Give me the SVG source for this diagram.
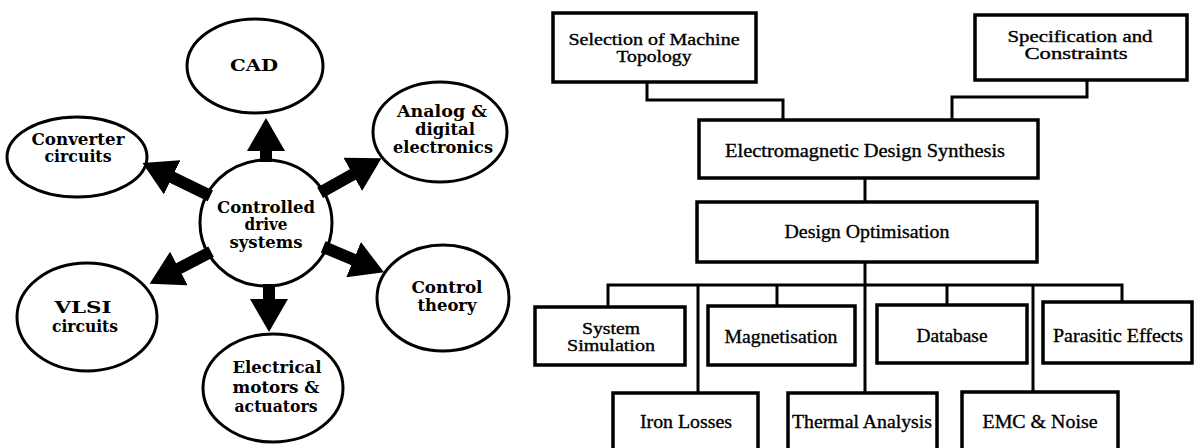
<svg xmlns="http://www.w3.org/2000/svg" width="1194" height="448" viewBox="0 0 1194 448">
<defs>
<style>
.ell{fill:#fff;stroke:#000;stroke-width:3}
.box{fill:#fff;stroke:#000;stroke-width:3.5}
.lt{font-family:"DejaVu Serif","Liberation Serif",serif;font-weight:bold;font-size:16px;text-anchor:middle;fill:#000}
.rt{font-family:"Liberation Serif","Times New Roman",serif;font-size:19px;text-anchor:middle;fill:#000;stroke:#000;stroke-width:0.35}
.rt2{font-size:16px}
.arr{stroke:#000;stroke-width:12;fill:none;marker-end:url(#ah)}
.con{stroke:#000;stroke-width:3;fill:none}
</style>
<marker id="ah" markerUnits="userSpaceOnUse" markerWidth="33" markerHeight="38" viewBox="0 0 33 38" refX="1" refY="19" orient="auto">
<path d="M0,0 L33,19 L0,38 Z" fill="#000"/>
</marker>
</defs>
<rect width="1194" height="448" fill="#fff"/>

<g id="n-cad"><ellipse class="ell" cx="255" cy="66" rx="68" ry="47"/><text class="lt" x="254" y="71" textLength="48" lengthAdjust="spacingAndGlyphs">CAD</text></g>
<g id="n-converter"><ellipse class="ell" cx="77" cy="157" rx="70" ry="40"/><text class="lt" x="78" y="145" textLength="93" lengthAdjust="spacingAndGlyphs">Converter</text><text class="lt" x="78" y="162" textLength="67" lengthAdjust="spacingAndGlyphs">circuits</text></g>
<g id="n-analog"><ellipse class="ell" cx="440" cy="132" rx="67" ry="50"/><text class="lt" x="442" y="117" textLength="90" lengthAdjust="spacingAndGlyphs">Analog &amp;</text><text class="lt" x="445" y="135" textLength="60" lengthAdjust="spacingAndGlyphs">digital</text><text class="lt" x="443" y="153" textLength="100" lengthAdjust="spacingAndGlyphs">electronics</text></g>
<g id="n-center"><ellipse class="ell" cx="266" cy="223" rx="66" ry="63"/><text class="lt" x="266" y="213" textLength="98" lengthAdjust="spacingAndGlyphs">Controlled</text><text class="lt" x="266" y="230" textLength="43" lengthAdjust="spacingAndGlyphs">drive</text><text class="lt" x="266" y="248" textLength="73" lengthAdjust="spacingAndGlyphs">systems</text></g>
<g id="n-vlsi"><ellipse class="ell" cx="87" cy="317" rx="70" ry="54"/><text class="lt" x="83" y="313" textLength="57" lengthAdjust="spacingAndGlyphs">VLSI</text><text class="lt" x="85" y="332" textLength="66" lengthAdjust="spacingAndGlyphs">circuits</text></g>
<g id="n-control"><ellipse class="ell" cx="443" cy="298" rx="66" ry="53"/><text class="lt" x="447" y="293" textLength="71" lengthAdjust="spacingAndGlyphs">Control</text><text class="lt" x="447" y="311" textLength="59" lengthAdjust="spacingAndGlyphs">theory</text></g>
<g id="n-electrical"><ellipse class="ell" cx="273" cy="388" rx="70" ry="54"/><text class="lt" x="277" y="373" textLength="89" lengthAdjust="spacingAndGlyphs">Electrical</text><text class="lt" x="276" y="393" textLength="87" lengthAdjust="spacingAndGlyphs">motors &amp;</text><text class="lt" x="276" y="412" textLength="83" lengthAdjust="spacingAndGlyphs">actuators</text></g>

<g id="n-selection"><rect class="box" x="553" y="13" width="203" height="69"/><text class="rt rt2" x="654" y="45" textLength="171" lengthAdjust="spacingAndGlyphs">Selection of Machine</text><text class="rt rt2" x="654" y="62" textLength="75" lengthAdjust="spacingAndGlyphs">Topology</text></g>
<g id="n-spec"><rect class="box" x="975" y="15" width="212" height="65"/><text class="rt rt2" x="1080" y="42" textLength="145" lengthAdjust="spacingAndGlyphs">Specification and</text><text class="rt rt2" x="1076" y="59" textLength="103" lengthAdjust="spacingAndGlyphs">Constraints</text></g>
<g id="n-eds"><rect class="box" x="699" y="120" width="339" height="58"/><text class="rt" x="865" y="157" textLength="280" lengthAdjust="spacingAndGlyphs">Electromagnetic Design Synthesis</text></g>
<g id="n-do"><rect class="box" x="697" y="202" width="340" height="60"/><text class="rt" x="867" y="238" textLength="165" lengthAdjust="spacingAndGlyphs">Design Optimisation</text></g>
<g id="n-sys"><rect class="box" x="535" y="307" width="150" height="58"/><text class="rt rt2" x="611" y="334" textLength="58" lengthAdjust="spacingAndGlyphs">System</text><text class="rt rt2" x="611" y="351" textLength="88" lengthAdjust="spacingAndGlyphs">Simulation</text></g>
<g id="n-mag"><rect class="box" x="708" y="306" width="147" height="59"/><text class="rt" x="781" y="343" textLength="113" lengthAdjust="spacingAndGlyphs">Magnetisation</text></g>
<g id="n-db"><rect class="box" x="877" y="305" width="150" height="58"/><text class="rt" x="952" y="342" textLength="71" lengthAdjust="spacingAndGlyphs">Database</text></g>
<g id="n-para"><rect class="box" x="1043" y="302" width="149" height="61"/><text class="rt" x="1118" y="342" textLength="130" lengthAdjust="spacingAndGlyphs">Parasitic Effects</text></g>
<g id="n-iron"><rect class="box" x="613" y="393" width="145" height="62"/><text class="rt" x="686" y="428" textLength="92" lengthAdjust="spacingAndGlyphs">Iron Losses</text></g>
<g id="n-thermal"><rect class="box" x="788" y="393" width="149" height="62"/><text class="rt" x="862" y="428" textLength="140" lengthAdjust="spacingAndGlyphs">Thermal Analysis</text></g>
<g id="n-emc"><rect class="box" x="962" y="392" width="156" height="63"/><text class="rt" x="1040" y="428" textLength="115" lengthAdjust="spacingAndGlyphs">EMC &amp; Noise</text></g>

<g id="connectors">
<line class="arr" x1="266" y1="162" x2="266" y2="150"/>
<line class="arr" x1="210.3" y1="195.8" x2="171.3" y2="176.9"/>
<line class="arr" x1="320.1" y1="192.7" x2="353.6" y2="173.9"/>
<line class="arr" x1="323.2" y1="246.9" x2="354.5" y2="260"/>
<line class="arr" x1="211.1" y1="251.7" x2="178" y2="269"/>
<line class="arr" x1="269" y1="284" x2="269" y2="300"/>
<path class="con" d="M647,82 V100 H783 V120"/>
<path class="con" d="M1087,80 V97 H952 V120"/>
<path class="con" d="M865,178 V202"/>
<path class="con" d="M865,262 V393"/>
<path class="con" d="M608,307 V285 H1122 V302"/>
<path class="con" d="M698,285 V393"/>
<path class="con" d="M777,285 V306"/>
<path class="con" d="M947,285 V305"/>
<path class="con" d="M1033,285 V392"/>
</g>
</svg>
